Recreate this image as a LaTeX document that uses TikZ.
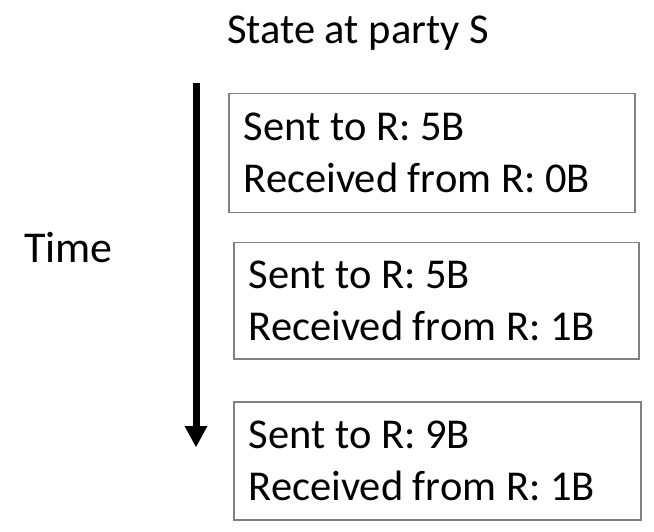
\documentclass[tikz,border=0pt]{standalone}
\usepackage{fontspec}
\setmainfont{Carlito}
\usetikzlibrary{arrows.meta}
\definecolor{boxgray}{HTML}{808080}
\frenchspacing
% keep the font's own interword space inside aligned nodes
\newcommand\fontspaces{\spaceskip=0pt\xspaceskip=0pt\relax}
\begin{document}
\begin{tikzpicture}[x=1pt,y=-1pt,
  statebox/.style={draw=boxgray, line width=1.5pt, anchor=north west,
    align=left, inner xsep=15pt, inner ysep=0pt, text width=#1,
    font=\fontsize{42.5}{52}\selectfont, execute at begin node=\fontspaces},
  label/.style={inner sep=0pt, font=\fontsize{43}{51}\selectfont},
  timearrow/.style={line width=7pt, -{Triangle[width=23pt,length=21pt,line width=0pt]}}]
  \useasboundingbox (0,0) rectangle (654,532);

  % header and time axis label
  \node[label, anchor=base west, font=\fontsize{42.5}{51}\selectfont] (title) at (227,44) {State at party S};
  \node[label, anchor=base west, font=\fontsize{44}{51}\selectfont] (time) at (24,262) {Time};

  % time axis
  \coordinate (ts) at (196,83);
  \coordinate (te) at (196,447);
  \draw[timearrow] (ts) -- (te);

  % successive states of party S
  \node[statebox=376pt, minimum height=119pt] (s1) at (228,93)
    {Sent to R: 5B\\Received from R: 0B};
  \node[statebox=375pt, minimum height=116pt] (s2) at (233,242)
    {Sent to R: 5B\\Received from R: 1B};
  \node[statebox=377pt, minimum height=118pt] (s3) at (233,401)
    {Sent to R: 9B\\Received from R: 1B};
\end{tikzpicture}
\end{document}
